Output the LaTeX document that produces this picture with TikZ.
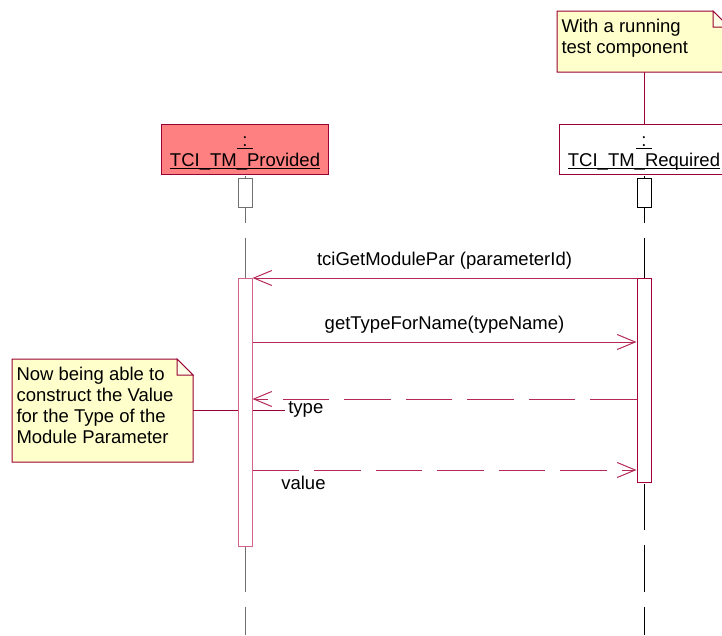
\documentclass[tikz,border=0pt]{standalone}
\usepackage{fontspec}
\setmainfont{Liberation Sans}
\usetikzlibrary{positioning,arrows.meta}

\definecolor{umlRed}{RGB}{153,0,51}
\definecolor{msgRed}{RGB}{180,40,90}
\definecolor{actPink}{RGB}{210,100,140}
\definecolor{actRed}{RGB}{165,0,55}
\definecolor{lifeGray}{RGB}{112,112,112}
\definecolor{provFill}{RGB}{255,128,128}
\definecolor{noteFill}{RGB}{255,255,204}
\definecolor{foldFill}{RGB}{255,255,232}

% underlined object name
\newsavebox{\umlbox}
\newcommand{\umlobj}[1]{\sbox{\umlbox}{#1}\rlap{\rule[-3.3pt]{\wd\umlbox}{1.5pt}}\usebox{\umlbox}}

\tikzset{
  every node/.style={font=\fontsize{18.5}{21}\selectfont},
  objbox/.style={rectangle, draw=umlRed, minimum width=167pt, minimum height=50pt, inner sep=0pt, align=center, font=\fontsize{18.5}{20}\selectfont},
  headbox/.style={rectangle, fill=white, minimum width=14pt, minimum height=29pt, inner sep=0pt},
  actbox/.style={rectangle, fill=white, minimum width=14pt, inner sep=0pt},
  lifeline/.style={dash pattern=on 46.5pt off 15pt, dash phase=60pt},
  msg/.style={draw=msgRed, -{Straight Barb[length=18pt, width=15pt]}},
  reply/.style={msg, dash pattern=on 46.5pt off 15pt},
  msglabel/.style={midway, anchor=base, yshift=13pt},
  notebox/.style={rectangle, inner sep=0pt, outer sep=0pt},
  notetext/.style={anchor=north west, align=left, inner xsep=4pt, inner ysep=7.3pt},
  noteline/.style={draw=umlRed}
}

\begin{document}
\begin{tikzpicture}[x=1pt, y=-1pt, line width=1pt]
    \useasboundingbox (0,0) rectangle (722,635);
    \clip (0,0) rectangle (722,635);
    \coordinate (bottom) at (0,635);
    % Objects
    \node[objbox, fill=provFill] (provided) at (245,149) {\rule{0pt}{18pt}\umlobj{~:~}\\\umlobj{TCI\_TM\_Provided}};
    \node[objbox, fill=white, minimum width=170pt] (required) at (644,149) {\rule{0pt}{18pt}\umlobj{~:~}\\\umlobj{TCI\_TM\_Required}};
    % Lifelines
    \draw[lifeline, draw=lifeGray] (provided.south) -- (provided.south |- bottom);
    \draw[lifeline, draw=black] (required.south) -- (required.south |- bottom);
    \node[headbox, draw=lifeGray, below=3pt of provided] (provHead) {};
    \node[headbox, draw=black, below=3pt of required] (reqHead) {};
    % Note: running test component
    \node[notebox, minimum width=172pt, minimum height=61pt] (runNote) at (643,41.5) {};
    \filldraw[fill=noteFill, draw=umlRed] (runNote.north west) -- ([xshift=-16pt]runNote.north east) -- ([yshift=-16pt]runNote.north east) -- (runNote.south east) -- (runNote.south west) -- cycle;
    \filldraw[fill=foldFill, draw=umlRed] ([xshift=-16pt]runNote.north east) -- ([xshift=-16pt, yshift=-16pt]runNote.north east) -- ([yshift=-16pt]runNote.north east) -- cycle;
    \node[notetext] (runNoteText) at (runNote.north west) {With a running\\test component};
    \draw[noteline] (runNote.south -| required.north) -- (required.north);
    % Note: module parameter value
    \node[notebox, minimum width=181pt, minimum height=103pt] (valueNote) at (102.5,410.5) {};
    \filldraw[fill=noteFill, draw=umlRed] (valueNote.north west) -- ([xshift=-16pt]valueNote.north east) -- ([yshift=-16pt]valueNote.north east) -- (valueNote.south east) -- (valueNote.south west) -- cycle;
    \filldraw[fill=foldFill, draw=umlRed] ([xshift=-16pt]valueNote.north east) -- ([xshift=-16pt, yshift=-16pt]valueNote.north east) -- ([yshift=-16pt]valueNote.north east) -- cycle;
    \node[notetext] (valueNoteText) at (valueNote.north west) {Now being able to\\construct the Value\\for the Type of the\\Module Parameter};
    \coordinate (typeTail) at (285,409);
    \draw[noteline] (valueNote.east) -- (valueNote.east -| typeTail);
    % Activations
    \node[actbox, draw=actPink, minimum height=268pt] (provAct) at (245,412) {};
    \node[actbox, draw=actRed, minimum height=204pt] (reqAct) at (644,380) {};
    % Messages
    \coordinate (m1) at (0,278);
    \coordinate (m2) at (0,342);
    \coordinate (m3) at (0,399);
    \coordinate (m4) at (0,470);
    \draw[msg] (reqAct.west |- m1) -- node[msglabel] (getParLabel) {tciGetModulePar (parameterId)} (provAct.east |- m1);
    \draw[msg] (provAct.east |- m2) -- node[msglabel] (getTypeLabel) {getTypeForName(typeName)} (reqAct.west |- m2);
    \draw[reply] (reqAct.west |- m3) -- (provAct.east |- m3);
    \draw[reply] (provAct.east |- m4) -- (reqAct.west |- m4);
    \node[anchor=base west] (typeLabel) at (284.5,413) {type};
    \node[anchor=base west] (valueLabel) at (277.5,489) {value};
\end{tikzpicture}
\end{document}
